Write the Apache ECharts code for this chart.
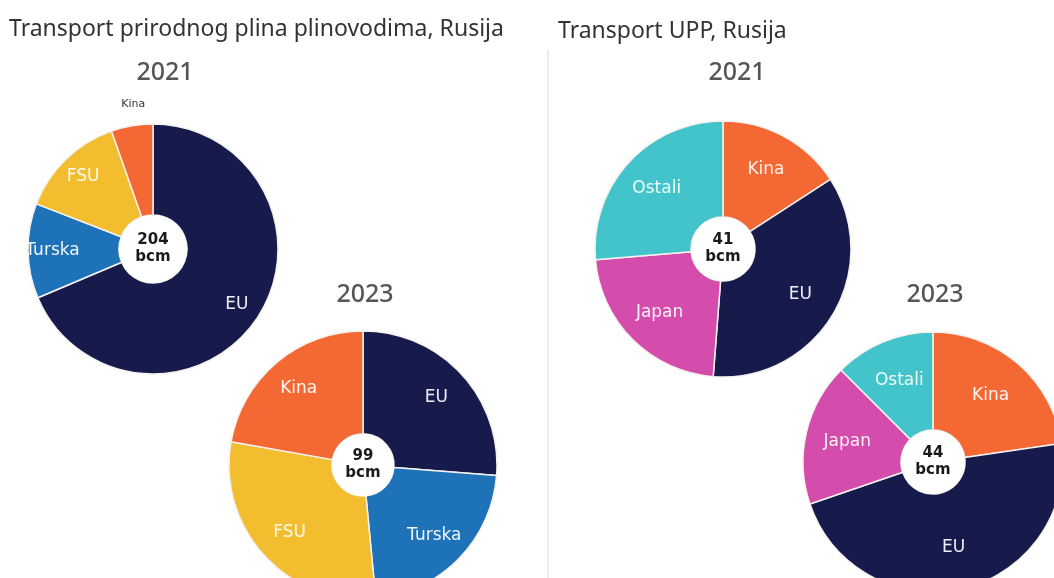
<!DOCTYPE html>
<html>
<head>
<meta charset="utf-8">
<script src="https://cdn.jsdelivr.net/npm/echarts@6/dist/echarts.min.js"></script>
<style>
  html, body { margin: 0; padding: 0; background: #fff; }
  #chart { width: 1054px; height: 578px; }
</style>
</head>
<body>
<div id="chart"></div>
<script>
// podaci (bcm), redoslijed = smjer kazaljke od 12 sati
const pipeCats = ['EU', 'Turska', 'FSU', 'Kina']
const pipe2021 = [140, 25, 28, 11]
const pipe2023 = [26, 22, 29, 22]
const lngCats = ['Kina', 'EU', 'Japan', 'Ostali']
const lng2021 = [6.5, 14.5, 9.2, 10.8]
const lng2023 = [10, 20.7, 7.8, 5.5]
const pipeTotals = [204, 99]
const lngTotals = [41, 44]
const years = ['2021', '2023']

const colors = {
  EU: '#171b4c',
  Turska: '#1e72b8',
  FSU: '#f2bd2e',
  Kina: '#f46833',
  Japan: '#d44dac',
  Ostali: '#42c4ca'
}

const font = 'Noto Sans'
const labelFont = 'DejaVu Sans'
const myChart = echarts.init(document.getElementById('chart'))

// jedan krug = obojeni prsten + sloj s natpisima + bijelo središte s ukupnim iznosom
const makePie = (cats, vals, total, center, r, r0, labelR0, extra) => {
  const data = cats.map((c, i) => ({ name: c, value: vals[i], itemStyle: { color: colors[c] } }))
  const labelData = cats.map((c, i) => {
    const item = { name: c, value: vals[i] }
    if (extra && extra[c]) Object.assign(item, extra[c])
    return item
  })
  return [
    {
      type: 'pie', center: center, radius: [r0, r], silent: true,
      itemStyle: { borderColor: '#f4f1ee', borderWidth: 1.5 },
      label: { show: false }, labelLine: { show: false },
      data: data
    },
    {
      type: 'pie', center: center, radius: [labelR0, r], silent: true,
      itemStyle: { color: 'rgba(0,0,0,0)' },
      label: {
        position: 'inside', color: 'rgba(255,255,255,0.92)', fontSize: 17, fontFamily: labelFont,
        formatter: '{b}'
      },
      labelLine: { show: false },
      data: labelData
    },
    {
      type: 'pie', center: center, radius: [0, r0], silent: true,
      itemStyle: { color: '#fff' },
      label: {
        position: 'center', formatter: '{c}\nbcm', color: '#1a1a1a',
        fontSize: 15, fontWeight: 600, lineHeight: 17, fontFamily: labelFont
      },
      labelLine: { show: false },
      data: [{ name: 'ukupno', value: total }]
    }
  ]
}

const kinaOutside = {
  Kina: {
    label: { position: 'outside', color: '#333', fontSize: 11, distanceToLabelLine: -17 },
    labelLine: { show: false, length: 22, length2: 0 }
  }
}

const option = {
  backgroundColor: '#fff',
  title: [
    { text: 'Transport prirodnog plina plinovodima, Rusija', left: 9, top: 18, padding: 0,
      textStyle: { fontSize: 23, fontWeight: 'normal', color: '#333', fontFamily: font } },
    { text: 'Transport UPP, Rusija', left: 558, top: 20, padding: 0,
      textStyle: { fontSize: 23, fontWeight: 'normal', color: '#333', fontFamily: font } },
    { text: years[0], left: 165, top: 60, padding: 0, textAlign: 'center',
      textStyle: { fontSize: 25, fontWeight: 500, color: '#555', fontFamily: font } },
    { text: years[1], left: 365, top: 282, padding: 0, textAlign: 'center',
      textStyle: { fontSize: 25, fontWeight: 500, color: '#555', fontFamily: font } },
    { text: years[0], left: 737, top: 60, padding: 0, textAlign: 'center',
      textStyle: { fontSize: 25, fontWeight: 500, color: '#555', fontFamily: font } },
    { text: years[1], left: 935, top: 282, padding: 0, textAlign: 'center',
      textStyle: { fontSize: 25, fontWeight: 500, color: '#555', fontFamily: font } }
  ],
  graphic: [
    { type: 'line', shape: { x1: 548, y1: 50, x2: 548, y2: 578 },
      style: { stroke: '#dcdcdc', lineWidth: 1 } }
  ],
  series: [
    ...makePie(pipeCats, pipe2021, pipeTotals[0], [153, 249], 125, 34, 70, kinaOutside),
    ...makePie(pipeCats, pipe2023, pipeTotals[1], [363, 465], 134, 31, 60),
    ...makePie(lngCats, lng2021, lngTotals[0], [723, 249], 128, 32, 46),
    ...makePie(lngCats, lng2023, lngTotals[1], [933, 462], 130, 32, 40)
  ]
}

myChart.setOption(option)
window.onresize = () => {
  myChart.resize()
}
</script>
</body>
</html>
